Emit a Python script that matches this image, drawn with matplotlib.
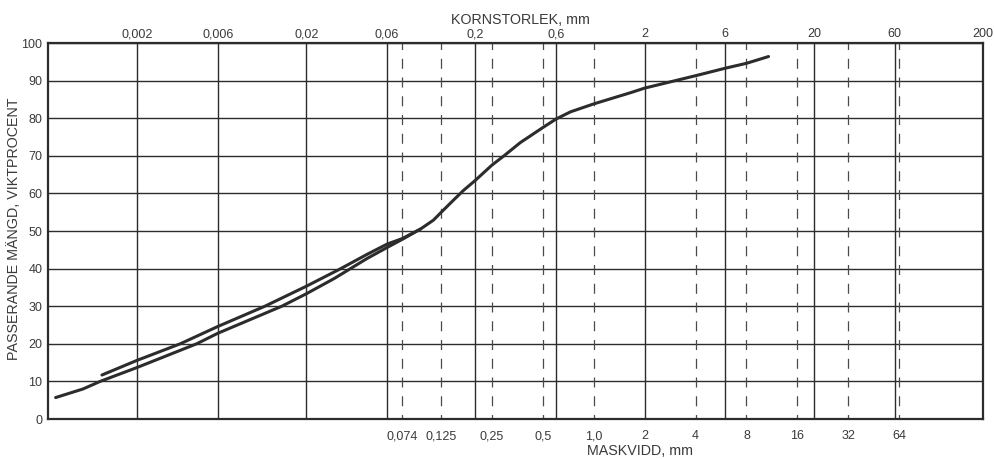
import numpy as np
import matplotlib
matplotlib.use("Agg")
from matplotlib import pyplot as plt
from matplotlib.ticker import NullLocator, FixedLocator, FixedFormatter

plt.rcParams['font.family'] = ['Liberation Sans', 'DejaVu Sans']
plt.rcParams['lines.scale_dashes'] = False

# grain sizes on the top scale (solid lines) and sieve sizes (dashed lines)
grainSizes = [0.002, 0.006, 0.02, 0.06, 0.2, 0.6, 2, 6, 20, 60, 200]
grainLabels = ['0,002', '0,006', '0,02', '0,06', '0,2', '0,6', '2', '6', '20', '60', '200']
sieveSizes = [0.074, 0.125, 0.25, 0.5, 1.0, 2, 4, 8, 16, 32, 64]
sieveLabels = ['0,074', '0,125', '0,25', '0,5', '1,0', '2', '4', '8', '16', '32', '64']

# grading curves (mm, % passing)
curveA_x = [0.00066, 0.00096, 0.00121, 0.002, 0.0045, 0.006, 0.01435, 0.02, 0.0291, 0.0458,
            0.06, 0.074, 0.0945, 0.113, 0.125, 0.149, 0.17, 0.2, 0.25, 0.295, 0.368,
            0.5, 0.6, 0.73, 1.0, 1.655, 2, 4, 6, 8, 10.8]
curveA_y = [5.7, 8.0, 10.0, 13.7, 20.0, 22.8, 30.0, 33.3, 37.3, 42.7,
            45.6, 47.8, 50.5, 52.9, 54.9, 58.3, 60.8, 63.5, 67.5, 70.0, 73.5,
            77.5, 79.8, 81.7, 83.8, 86.8, 88.0, 91.3, 93.3, 94.6, 96.4]
curveB_x = [0.00124, 0.002, 0.0036, 0.006, 0.0114, 0.02, 0.032, 0.0458, 0.06, 0.074, 0.0945]
curveB_y = [11.7, 15.6, 20.0, 24.6, 30.0, 35.3, 40.0, 43.8, 46.5, 48.0, 50.5]

ink = '#2c2c2c'
txt = '#3a3a3a'

fig = plt.figure(figsize=(9.95, 4.59), dpi=100)
ax = fig.add_axes([48 / 995, 1 - 419 / 459, (983 - 48) / 995, (419 - 43) / 459])

ax.set_xscale('log')
ax.set_xlim(0.000595, 200)
ax.set_ylim(0, 100)

# horizontal grid
ax.set_yticks(range(0, 101, 10))
ax.yaxis.grid(True, color=ink, lw=1.0)
ax.set_axisbelow(True)

# solid lines at the grain size scale
ax.vlines([g for g in grainSizes if g < 200], 0, 100, colors=ink, lw=1.0, zorder=1)
# dashed lines at the sieve sizes
ax.vlines([s for s in sieveSizes if s not in grainSizes], 100, 0, colors='#4a4a4a', lw=0.9,
          linestyles=(2.5, (7.2, 6.3)), zorder=1)

ax.plot(curveA_x, curveA_y, color=ink, lw=2.2, solid_capstyle='round', solid_joinstyle='round', zorder=3)
ax.plot(curveB_x, curveB_y, color=ink, lw=2.2, solid_capstyle='round', solid_joinstyle='round', zorder=3)

for sp in ax.spines.values():
    sp.set_color(ink)
    sp.set_linewidth(1.6)

ax.xaxis.set_minor_locator(NullLocator())
ax.xaxis.set_major_locator(FixedLocator(sieveSizes))
ax.xaxis.set_major_formatter(FixedFormatter(sieveLabels))
ax.tick_params(axis='x', length=0, pad=8, labelsize=9, labelcolor=txt)
ax.tick_params(axis='y', length=0, pad=4, labelsize=9, labelcolor=txt)

top = ax.secondary_xaxis('top')
top.xaxis.set_minor_locator(NullLocator())
top.xaxis.set_major_locator(FixedLocator(grainSizes))
top.xaxis.set_major_formatter(FixedFormatter(grainLabels))
top.tick_params(axis='x', length=0, pad=2, labelsize=9, labelcolor=txt)
top.spines['top'].set_visible(False)

fig.text(520 / 995, 1 - 20 / 459, 'KORNSTORLEK, mm', ha='center', va='center',
         fontsize=10.3, color=txt)
fig.text(640 / 995, 1 - 451 / 459, 'MASKVIDD, mm', ha='center', va='center',
         fontsize=10.3, color=txt)
fig.text(14 / 995, 1 - 229 / 459, 'PASSERANDE MÄNGD, VIKTPROCENT', ha='center', va='center',
         rotation=90, fontsize=10.3, color=txt)

fig.savefig('out.png', dpi=100)
